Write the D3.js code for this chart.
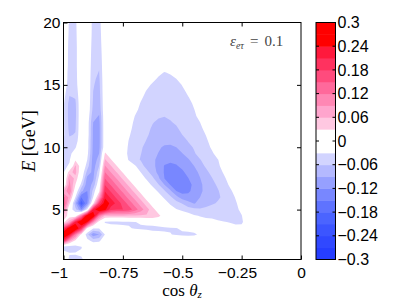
<!DOCTYPE html>
<html>
<head>
<meta charset="utf-8">
<script src="https://cdn.jsdelivr.net/npm/d3@7"></script>
<style>
body { margin: 0; background: #fff; }
</style>
</head>
<body>
<script>
// ------------------------------------------------------------------
// data: grid axes and the field (units of 0.01)
// ------------------------------------------------------------------
var cosz = [-1, -0.975, -0.95, -0.925, -0.9, -0.875, -0.85, -0.825, -0.8, -0.775,
            -0.75, -0.725, -0.7, -0.675, -0.65, -0.625, -0.6, -0.575, -0.55, -0.525,
            -0.5, -0.475, -0.45, -0.425, -0.4, -0.375, -0.35, -0.325, -0.3, -0.275,
            -0.25, -0.225, -0.2, -0.175, -0.15, -0.125, -0.1, -0.075, -0.05, -0.025, 0]

var energy = [20, 19.5, 19, 18.5, 18, 17.5, 17, 16.5, 16, 15.5, 15, 14.5, 14, 13.5,
              13, 12.5, 12, 11.5, 11, 10.5, 10, 9.5, 9, 8.5, 8, 7.5, 7, 6.5, 6, 5.5,
              5, 4.5, 4, 3.5, 3, 2.5, 2, 1.5, 1]

// rows top (E = 20) to bottom (E = 1), columns cos = -1 .. 0
var dP = [
 [0,-3.4,-3.6,0,0,-4,-4,0,0, 0,0,0,0,0,0,0,0,0,0,0,0,0,0,0,0,0,0,0,0,0,0,0,0,0,0,0,0,0,0,0,0],
 [0,-3.5,-3.7,0,0,-4,-4.2,0,0, 0,0,0,0,0,0,0,0,0,0,0,0,0,0,0,0,0,0,0,0,0,0,0,0,0,0,0,0,0,0,0,0],
 [0,-3.6,-3.8,0,0,-4.1,-4.4,0,0, 0,0,0,0,0,0,0,0,0,0,0,0,0,0,0,0,0,0,0,0,0,0,0,0,0,0,0,0,0,0,0,0],
 [0,-3.8,-3.9,0,0,-4.3,-4.6,0,0, 0,0,0,0,0,0,0,0,0,0,0,0,0,0,0,0,0,0,0,0,0,0,0,0,0,0,0,0,0,0,0,0],
 [0,-3.9,-4,0,0,-4.5,-4.9,0,0, 0,0,0,0,0,0,0,0,0,0,0,0,0,0,0,0,0,0,0,0,0,0,0,0,0,0,0,0,0,0,0,0],
 [0,-4,-4,0,0,-4.7,-5.2,0,0, 0,0,0,0,0,0,0,0,0,0,0,0,0,0,0,0,0,0,0,0,0,0,0,0,0,0,0,0,0,0,0,0],
 [0,-4,-4,0,0,-4.9,-5.5,0,0, 0,0,0,0,0,0,0,0,0,0,0,0,0,0,0,0,0,0,0,0,0,0,0,0,0,0,0,0,0,0,0,0],
 [0,-4.1,-4,0,0,-5.1,-5.8,0,0, 0,0,0,0,0,0,0,0,0,0,0,0,0,0,0,0,0,0,0,0,0,0,0,0,0,0,0,0,0,0,0,0],
 [-0.5,-4.2,-4.1,0,0,-5.4,-6.1,0,0, 0,0,0,0,0,0,0, -2,-3.2,-2.5, 0,0,0,0,0,0,0,0,0,0,0,0,0,0,0,0,0,0,0,0,0,0],
 [-0.5,-4.3,-4.2,0,0,-5.6,-6.5,0,0, 0,0,0,0,0,0, -2,-3.5,-4,-4,-3,-1.5, 0,0,0,0,0,0,0,0,0,0,0,0,0,0,0,0,0,0,0,0],
 [-1,-4.5,-4.4,0,0,-5.8,-6.8,0,0, 0,0,0,0,0, -2,-3.5,-4.5,-5,-5,-4.5,-2.8,-1, 0,0,0,0,0,0,0,0,0,0,0,0,0,0,0,0,0,0,0],
 [-1.5,-5.3,-5,0,0,-6,-7,0,0, 0,0,0,0, -1.5,-3.2,-4.5,-5,-5.3,-5.3,-5,-4,-2,-0.5, 0,0,0,0,0,0,0,0,0,0,0,0,0,0,0,0,0,0],
 [-2,-6.2,-5.8,0,0,-6.2,-7.3,0,0, 0,0,0,0, -2.5,-3.8,-4.8,-5.3,-5.6,-5.7,-5.5,-4.8,-3.2,-1.5, 0,0,0,0,0,0,0,0,0,0,0,0,0,0,0,0,0,0],
 [-2.5,-7,-6.5,0,0,-6.5,-7.6,0,0, 0,0,0, -1.5,-3.2,-4.3,-5,-5.5,-5.8,-5.9,-5.8,-5.2,-4,-2.5,-1, 0,0,0,0,0,0,0,0,0,0,0,0,0,0,0,0,0],
 [-2.5,-7.2,-6.7,0,0,-7,-8,0,0, 0,0,0, -2.3,-3.6,-4.7,-5.3,-5.7,-5.9,-5.95,-5.9,-5.5,-4.6,-3.1,-1.5, 0,0,0,0,0,0,0,0,0,0,0,0,0,0,0,0,0],
 [-2.5,-7.2,-6.7,0,-0.5,-8,-9.2,0,0, 0,0, -1,-3,-4.2,-5,-5.5,-5.8,-5.95,-5.9,-5.8,-5.6,-5,-3.6,-2, 0,0,0,0,0,0,0,0,0,0,0,0,0,0,0,0,0],
 [-2.5,-7,-6.5,0,-1,-9,-9.8,0,0, 0,0, -2,-3.4,-4.5,-5.3,-5.9,-6.3,-6.4,-6.05,-5.9,-5.7,-5.3,-4.3,-3,-1.5, 0,0,0,0,0,0,0,0,0,0,0,0,0,0,0,0],
 [-2.5,-6.8,-6.3,0,-1,-9.5,-10,0,0, 0,0, -2.3,-3.7,-4.8,-5.6,-6.2,-6.6,-6.8,-6.6,-6.1,-5.8,-5.5,-4.8,-3.6,-2.2, 0,0,0,0,0,0,0,0,0,0,0,0,0,0,0,0],
 [-2.5,-6.3,-5.8,0,-1,-9.5,-10,0,0, 0, -1,-2.7,-4,-5,-5.8,-6.4,-6.9,-7.2,-7.2,-6.8,-6,-5.7,-5.1,-4.2,-2.9,-1.5, 0,0,0,0,0,0,0,0,0,0,0,0,0,0,0],
 [-3,-5.2,-4.8,0,-1.5,-9.6,-10,0,0, 0, -1.5,-3.1,-4.4,-5.4,-6.1,-6.9,-7.6,-8.2,-8.3,-7.8,-6.9,-5.9,-5.5,-4.7,-3.5,-2, 0,0,0,0,0,0,0,0,0,0,0,0,0,0,0],
 [-3.5,-4.5,-3.3,0,-1.5,-9.8,-9.8,0,0, 0, -1.8,-3.3,-4.7,-5.7,-6.6,-7.6,-8.6,-9.4,-9.5,-9,-7.9,-6.6,-5.8,-5,-4,-2.6,-1.2, 0,0,0,0,0,0,0,0,0,0,0,0,0,0],
 [-4,-3.8,-1.5,0,-2,-10,-9,3.5,0.5, 0, -2,-3.4,-4.8,-5.9,-7,-8.1,-9.1,-10,-10.4,-10,-9.1,-7.6,-6.2,-5.3,-4.5,-3.4,-2, 0,0,0,0,0,0,0,0,0,0,0,0,0,0],
 [-4,-3.5,2.5,1,-3,-10.5,-8,6.3,3.2, 0, -1.5,-3.2,-5,-6.2,-7.4,-8.5,-9.6,-10.9,-11.6,-11.4,-10.5,-9.3,-7.7,-6.1,-5.2,-4.3,-3.1,-1.6, 0,0,0,0,0,0,0,0,0,0,0,0,0],
 [-4,-2.5,6.5,1,-4.5,-10.5,-6,9.2,6.1, 3,0, -1.5,-2.6,-4.6,-7.2,-8.2,-10,-12.2,-12.4,-12.2,-11.5,-10.3,-9,-6.8,-5.7,-4.8,-3.5,-2, 0,0,0,0,0,0,0,0,0,0,0,0,0],
 [-3.5,5,7,0,-7,-10,-4,12,8.9, 5.8,2.7,0, -1.8,-3,-5,-7.5,-9.8,-12.3,-13,-13,-12.4,-11.3,-10,-8.4,-6.5,-5.4,-4.2,-2.7,-1.2, 0,0,0,0,0,0,0,0,0,0,0,0],
 [-2.5,9,5,-1,-10,-9.5,-2,14.9,11.8, 8.7,5.5,2.4,0, -1.8,-3.3,-5.3,-8.4,-12,-13.5,-13.8,-13.3,-12.1,-10.8,-9.1,-7.4,-6.1,-5,-3.5,-2, 0,0,0,0,0,0,0,0,0,0,0,0],
 [-1,10,3,-4,-11,-8,0,17.7,14.6, 11.5,8.4,5.3,2.2,0, -1.8,-3.5,-5.8,-9,-12.2,-13.6,-13.8,-13,-11.3,-9.6,-8,-6.8,-5.6,-4.3,-2.6,-1.5, 0,0,0,0,0,0,0,0,0,0,0],
 [6,12,0,-8,-12,-5,2,20.6,17.5, 14.3,11.2,8.1,5,1.9,0, -1.8,-3.4,-5.7,-8.5,-12,-13.2,-12.6,-11,-9.5,-8.3,-7.2,-6.2,-5,-3.6,-2, 0,0,0,0,0,0,0,0,0,0,0],
 [13,8,-3,-15,-13,-3,8,23.4,20.3, 17.2,14.1,10.9,7.9,4.8,1.6,0, -1.8,-3.4,-5.4,-8,-10.5,-11,-10,-9,-8,-7,-6.3,-5.6,-4.2,-2.8,-1.2, 0,0,0,0,0,0,0,0,0,0],
 [16,4,-8,-20,-12,2,18,26.2,23.1, 20,16.9,13.8,10.7,7.6,4.5,1.3,0, -1.8,-3.4,-4.8,-6.2,-8,-9.2,-8.2,-7,-6.3,-5.8,-5,-4.3,-3.3,-1.8, 0,0,0,0,0,0,0,0,0,0],
 [12,-1,-5,-12,-2,22,28,25,19, 18,18,16.7,13.6,10.5,7.3,4.2,1.1,0, -1.5,-2.8,-3.6,-4.5,-5.2,-5.5,-5.3,-5,-4.7,-4.4,-4,-3.5,-2.5,-1, 0,0,0,0,0,0,0,0,0],
 [6,1,0,12,28,28,12,5.6,5.6, 5.6,5.6,5.6,5.6,5.6,5.6,5.6,4,0.9, 0,0, -1,-1.5,-2.6,-3.2,-3.6,-3.8,-3.9,-3.9,-3.8,-3.6,-3.1,-1.5, 0,0,0,0,0,0,0,0,0],
 [2,8,22,29,24,10,1,-3.4,-3.8, -3.8,-3.6,-3.3,-3.1,-2.6,-2.1,-1.8,-1.2,-0.8,-0.5,-0.5,-0.8,-1,-1.2,-1.5,-1.8,-2,-2.6,-2.9,-3.1,-3.3,-3.3,-2, 0,0,0,0,0,0,0,0,0],
 [18,27,29,20,2,-2.8,-2.8,-1,-1.5, -1.8,-2.3,-2.8,-3.2,-3.5,-3.8,-3.9,-3.8,-3.5,-3.2,-3.1,-2.5,-2.1,-1.8,-1.6,-1.6,-1.7,-1.9,-2,-2.3,-2.5,-2.4,-1, 0,0,0,0,0,0,0,0,0],
 [29,24,12,2,-5,-11,-9,-2.8,-1, 0,0,0,0,0,0, -1.6,-2,-2.5,-2.9,-3.3,-3.6,-3.7,-3.5,-2.5,-1, 0,0,0,0,0,0,0,0,0,0,0,0,0,0,0,0],
 [20,8,2,0,-2,-4,-3.5,-1,0, 0,0,0,0,0,0,0,0,0,0,0,0,0,0,0,0,0,0,0,0,0,0,0,0,0,0,0,0,0,0,0,0],
 [-5,-5,-4.5,-3.2,-1,0,0,0,0, 0,0,0,0,0,0,0,0,0,0,0,0,0,0,0,0,0,0,0,0,0,0,0,0,0,0,0,0,0,0,0,0],
 [-1.5,-2.8,-2.8,-2.6,-1.5,-0.5,0,0,0, 0,0,0,0,0,0,0,0,0,0,0,0,0,0,0,0,0,0,0,0,0,0,0,0,0,0,0,0,0,0,0,0],
 [-1,-3.5,-3.6,-3.4,-2,-0.5,0,0,0, 0,0,0,0,0,0,0,0,0,0,0,0,0,0,0,0,0,0,0,0,0,0,0,0,0,0,0,0,0,0,0,0]
]

var levels  = [3, 6, 9, 12, 15, 18, 21, 24, 27]
var xTicks  = [-1, -0.75, -0.5, -0.25, 0]
var yTicks  = [5, 10, 15, 20]
var cbTicks = [0.3, 0.24, 0.18, 0.12, 0.06, 0, -0.06, -0.12, -0.18, -0.24, -0.3]

// colours for |value| bands 0.03-0.06 ... 0.27-0.30
var posColors = ["#ffc8e1", "#ffa5cd", "#ff87b4", "#ff699b", "#ff4b7d", "#ff325f", "#ff193c", "#ff0000", "#ff0000"]
var negColors = ["#d2d4ff", "#b4b9ff", "#96a0ff", "#7887ff", "#5f73ff", "#4b64ff", "#3c55ff", "#3048ff", "#263eff"]

// ------------------------------------------------------------------
// sanity check on the grid
// ------------------------------------------------------------------
dP.forEach(function (row, i) {
	if (row.length != cosz.length) throw new Error("row " + i + " has " + row.length)
})
if (dP.length != energy.length) throw new Error("rows: " + dP.length)

// ------------------------------------------------------------------
// svg, scales
// ------------------------------------------------------------------
var svg = d3.select("body").append("svg").attr("width", 399).attr("height", 300)
  , x   = d3.scaleLinear().domain([-1, 0]).range([63.5, 301])
  , y   = d3.scaleLinear().domain([1, 20]).range([259.5, 22.5])
  , yc  = d3.scaleLinear().domain([-0.3, 0.3]).range([259.5, 22.5])
  , nx  = cosz.length
  , ny  = energy.length
  , dc  = cosz[1] - cosz[0]
  , de  = energy[1] - energy[0]
  , flat = [].concat.apply([], dP)

// grid coords -> data -> pixels
var path = d3.geoPath(d3.geoTransform({
	point: function (gx, gy) {
		this.stream.point(x(cosz[0] + (gx - 0.5) * dc), y(energy[0] + (gy - 0.5) * de))
	}
}))

svg.append("clipPath").attr("id", "clip")
	.append("rect")
	.attr("x", x(-1)).attr("y", y(20))
	.attr("width", x(0) - x(-1)).attr("height", y(1) - y(20))

var plot = svg.append("g").attr("clip-path", "url(#clip)")
  , gen  = d3.contours().size([nx, ny]).thresholds(levels)

plot.selectAll("path.pos")
	.data(gen(flat))
	.enter().append("path")
	.attr("class", "pos")
	.attr("d", path)
	.attr("fill-rule", "evenodd")
	.attr("fill", function (d, i) { return posColors[i] })

plot.selectAll("path.neg")
	.data(gen(flat.map(function (v) { return -v })))
	.enter().append("path")
	.attr("class", "neg")
	.attr("d", path)
	.attr("fill-rule", "evenodd")
	.attr("fill", function (d, i) { return negColors[i] })

// ------------------------------------------------------------------
// axes
// ------------------------------------------------------------------
var fmt = d3.format("~g")
  , tickFont = "'Liberation Sans', Arial, sans-serif"

svg.append("g")
	.attr("transform", "translate(0," + y(1) + ")")
	.call(d3.axisBottom(x).tickValues(xTicks).tickSizeInner(-4).tickSizeOuter(0).tickPadding(7).tickFormat(fmt))
	.call(function (g) {
		g.select(".domain").remove()
		g.selectAll("text").attr("dx", function (d) { return d < 0 ? "-0.3em" : 0 })
	})

svg.append("g")
	.attr("transform", "translate(0," + y(20) + ")")
	.call(d3.axisTop(x).tickValues(xTicks.slice(1, -1)).tickSizeInner(-4).tickSizeOuter(0).tickFormat(""))
	.call(function (g) { g.select(".domain").remove() })

svg.append("g")
	.attr("transform", "translate(" + x(-1) + ",0)")
	.call(d3.axisLeft(y).tickValues(yTicks).tickSizeInner(-4).tickSizeOuter(0).tickPadding(3).tickFormat(fmt))
	.call(function (g) { g.select(".domain").remove() })

svg.append("g")
	.attr("transform", "translate(" + x(0) + ",0)")
	.call(d3.axisRight(y).tickValues(yTicks.slice(0, -1)).tickSizeInner(-4).tickSizeOuter(0).tickFormat(""))
	.call(function (g) { g.select(".domain").remove() })

svg.selectAll(".tick text")
	.attr("font-family", tickFont)
	.attr("font-size", 15.5)
	.attr("fill", "#000")

svg.append("rect")
	.attr("x", x(-1)).attr("y", y(20))
	.attr("width", x(0) - x(-1)).attr("height", y(1) - y(20))
	.attr("fill", "none")
	.attr("stroke", "#000")
	.attr("stroke-width", 1)

// axis titles
var serif = "'Liberation Serif', 'DejaVu Serif', serif"

var xl = svg.append("text")
	.attr("x", 182).attr("y", 296)
	.attr("text-anchor", "middle")
	.attr("font-family", serif)
	.attr("font-size", 17)
xl.append("tspan").text("cos ")
xl.append("tspan").attr("font-style", "italic").text("θ")
xl.append("tspan").attr("font-style", "italic").attr("font-size", 11).attr("dy", 1.5).text("z")

var yl = svg.append("text")
	.attr("transform", "translate(35,141) rotate(-90)")
	.attr("text-anchor", "middle")
	.attr("font-family", serif)
	.attr("font-size", 18)
yl.append("tspan").attr("font-style", "italic").text("E")
yl.append("tspan").text(" [GeV]")

// annotation
var an = svg.append("text")
	.attr("x", 230).attr("y", 46)
	.attr("font-family", serif)
	.attr("font-size", 15)
	.attr("fill", "#444")
an.append("tspan").attr("font-style", "italic").text("ε")
an.append("tspan").attr("font-style", "italic").attr("font-size", 10).attr("dy", 3).text("eτ")
an.append("tspan").attr("dy", -3).attr("dx", 6).text("=")
an.append("tspan").attr("dx", 6).text("0.1")

// ------------------------------------------------------------------
// colour bar
// ------------------------------------------------------------------
var cbX = 316, cbW = 19.5
  , bands = d3.range(20)

svg.append("g").selectAll("rect")
	.data(bands)
	.enter().append("rect")
	.attr("x", cbX)
	.attr("width", cbW)
	.attr("y", function (k) { return yc(-0.3 + 0.03 * (k + 1)) })
	.attr("height", function (k) { return yc(-0.3 + 0.03 * k) - yc(-0.3 + 0.03 * (k + 1)) + 0.5 })
	.attr("fill", function (k) {
		if (k >= 11) return posColors[k - 11]
		if (k <= 8) return negColors[8 - k]
		return "#fff"
	})

svg.append("rect")
	.attr("x", cbX).attr("y", yc(0.3))
	.attr("width", cbW).attr("height", yc(-0.3) - yc(0.3))
	.attr("fill", "none").attr("stroke", "#000").attr("stroke-width", 1)

var cbt = svg.append("g").selectAll("g")
	.data(cbTicks)
	.enter().append("g")
	.attr("transform", function (d) { return "translate(0," + yc(d) + ")" })

cbt.append("line").attr("x1", cbX).attr("x2", cbX + 3).attr("stroke", "#000")
cbt.append("line").attr("x1", cbX + cbW - 3).attr("x2", cbX + cbW).attr("stroke", "#000")
cbt.append("text")
	.attr("x", cbX + cbW + 2)
	.attr("dy", "0.35em")
	.attr("font-family", tickFont)
	.attr("font-size", 16)
	.text(fmt)
</script>
</body>
</html>
